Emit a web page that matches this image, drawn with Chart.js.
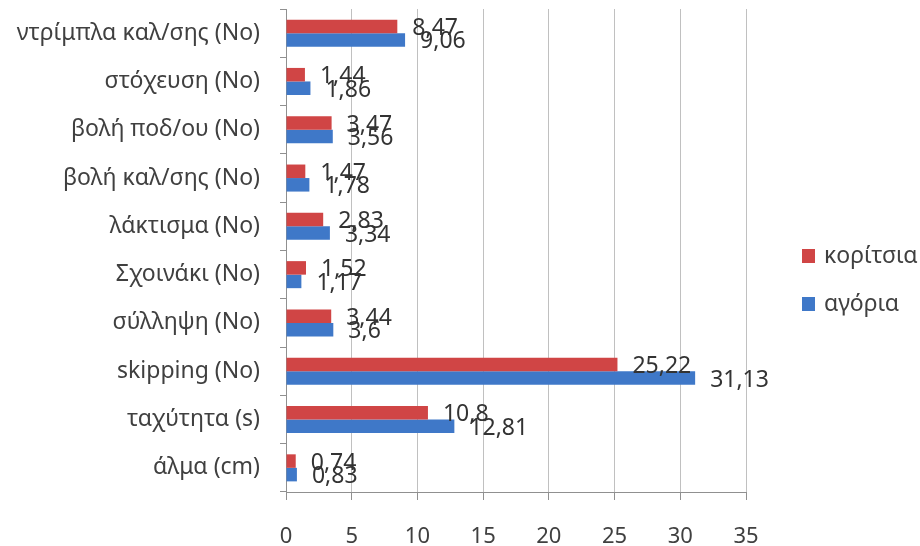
<!DOCTYPE html>
<html>
<head>
<meta charset="utf-8">
<script src="https://cdn.jsdelivr.net/npm/chart.js@4.4.0/dist/chart.umd.min.js"></script>
<style>
  html, body { margin: 0; padding: 0; background: #ffffff; }
  #wrap { width: 920px; height: 546px; position: relative; }
</style>
</head>
<body>
<div id="wrap"><canvas id="c" width="920" height="546"></canvas></div>
<script>
const categories = [
  "ντρίμπλα καλ/σης (No)",
  "στόχευση (No)",
  "βολή ποδ/ου (No)",
  "βολή καλ/σης (No)",
  "λάκτισμα (No)",
  "Σχοινάκι (No)",
  "σύλληψη (No)",
  "skipping (No)",
  "ταχύτητα (s)",
  "άλμα (cm)"
];
const girls = [8.47, 1.44, 3.47, 1.47, 2.83, 1.52, 3.44, 25.22, 10.8, 0.74];
const boys  = [9.06, 1.86, 3.56, 1.78, 3.34, 1.17, 3.6, 31.13, 12.81, 0.83];
const seriesNames = ["κορίτσια", "αγόρια"];
const seriesColors = ["#D04545", "#3F78C8"];
const xTicks = [0, 5, 10, 15, 20, 25, 30, 35];

const FONT = "'Noto Sans', 'Open Sans', 'DejaVu Sans', sans-serif";

const valueLabels = {
  id: 'valueLabels',
  afterDatasetsDraw(chart) {
    const ctx = chart.ctx;
    ctx.save();
    ctx.font = "23px " + FONT;
    ctx.fillStyle = "#333333";
    ctx.textAlign = "left";
    ctx.textBaseline = "middle";
    chart.data.datasets.forEach((ds, i) => {
      const meta = chart.getDatasetMeta(i);
      meta.data.forEach((el, j) => {
        const txt = String(ds.data[j]).replace('.', ',');
        ctx.fillText(txt, el.x + 15, el.y + 2);
      });
    });
    ctx.restore();
  }
};

const sideLegend = {
  id: 'sideLegend',
  afterDraw(chart) {
    const ctx = chart.ctx;
    ctx.save();
    ctx.font = "23px " + FONT;
    ctx.textAlign = "left";
    ctx.textBaseline = "middle";
    const ys = [256, 304];
    chart.data.datasets.forEach((ds, i) => {
      ctx.fillStyle = ds.backgroundColor;
      ctx.fillRect(802, ys[i] - 7, 13, 14);
      ctx.fillStyle = "#404040";
      ctx.fillText(ds.label, 824, ys[i]);
    });
    ctx.restore();
  }
};

new Chart(document.getElementById('c'), {
  type: 'bar',
  data: {
    labels: categories,
    datasets: [
      { label: seriesNames[0], data: girls, backgroundColor: seriesColors[0], categoryPercentage: 0.56, barPercentage: 1.0 },
      { label: seriesNames[1], data: boys,  backgroundColor: seriesColors[1], categoryPercentage: 0.56, barPercentage: 1.0 }
    ]
  },
  options: {
    indexAxis: 'y',
    responsive: false,
    animation: false,
    layout: { padding: { left: 0, top: 9, right: 174, bottom: 0 } },
    plugins: {
      legend: { display: false },
      tooltip: { enabled: false }
    },
    scales: {
      x: {
        min: 0, max: 35,
        afterBuildTicks(scale) { scale.ticks = xTicks.map(v => ({ value: v })); },
        afterFit(scale) { scale.height = 54; scale.paddingLeft = 0; scale.paddingRight = 0; },
        grid: { color: "#c0c0c0", lineWidth: 1, tickLength: 8, tickColor: "#909090", drawTicks: true },
        border: { color: "#909090", width: 1 },
        ticks: { font: { family: FONT, size: 22 }, color: "#404040", padding: 24, maxRotation: 0 }
      },
      y: {
        afterFit(scale) { scale.width = 286; scale.paddingTop = 0; scale.paddingBottom = 0; },
        grid: { drawOnChartArea: false, drawTicks: true, tickLength: 6, tickColor: "#909090", offset: true },
        border: { color: "#909090", width: 1 },
        ticks: { font: { family: FONT, size: 23 }, color: "#404040", padding: 20, autoSkip: false }
      }
    }
  },
  plugins: [valueLabels, sideLegend]
});
</script>
</body>
</html>
